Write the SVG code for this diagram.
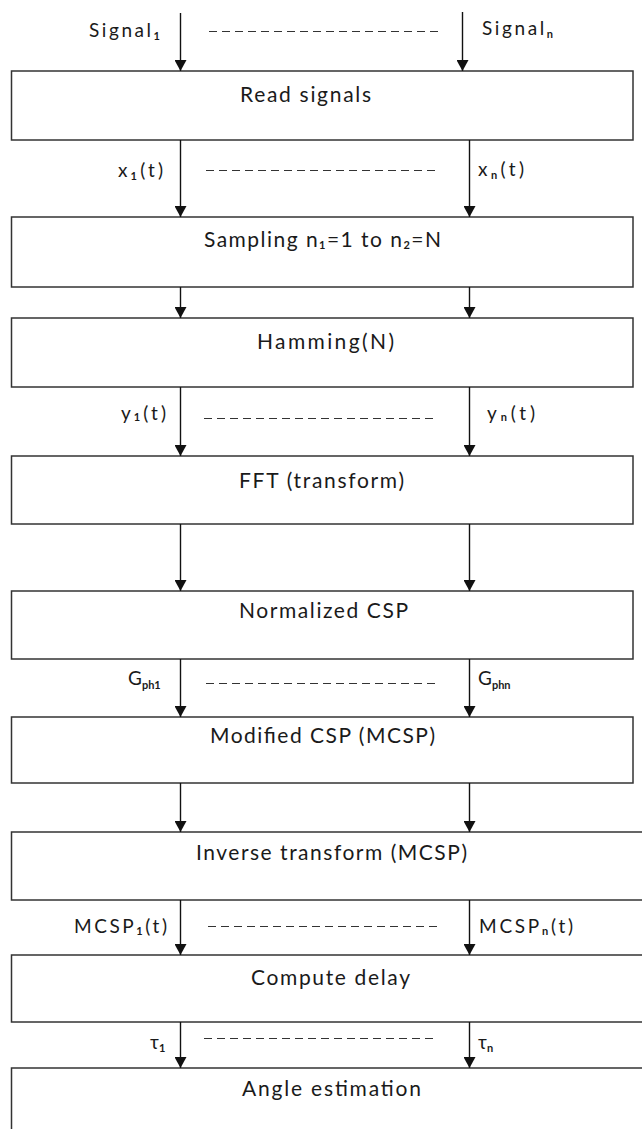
<svg xmlns="http://www.w3.org/2000/svg" width="642" height="1129" viewBox="0 0 642 1129">
<style>
.box{fill:#fff;stroke:#333;stroke-width:1.5}
.t{font-family:Lato,"Liberation Sans",sans-serif;font-size:21px;fill:#1a1a1a}
.l{font-family:Lato,"Liberation Sans",sans-serif;font-size:19px;fill:#1a1a1a}
.sub{font-size:11px;font-weight:bold}
.ar{stroke:#111;stroke-width:1.4;fill:none}
.dash{stroke:#333;stroke-width:1.1;stroke-dasharray:8 5;fill:none}
</style>
<defs>
<marker id="ah" viewBox="0 0 11 12" refX="11" refY="6" markerWidth="11" markerHeight="12" markerUnits="userSpaceOnUse" orient="auto">
<path d="M0,0 L11,6 L0,12 Z" fill="#111"/>
</marker>
</defs>
<g id="n1"><rect class="box" x="11.5" y="71" width="621.5" height="69"/><text class="t" x="240" y="102" textLength="131" lengthAdjust="spacing">Read signals</text></g>
<g id="n2"><rect class="box" x="11.5" y="217" width="621.5" height="70"/><text class="t" x="204" y="247" textLength="237" lengthAdjust="spacing">Sampling n<tspan class="sub" dy="2">1</tspan><tspan dy="-2">=1 to n</tspan><tspan class="sub" dy="2">2</tspan><tspan dy="-2">=N</tspan></text></g>
<g id="n3"><rect class="box" x="11.5" y="318" width="621.5" height="69"/><text class="t" x="257" y="349" textLength="137" lengthAdjust="spacing">Hamming(N)</text></g>
<g id="n4"><rect class="box" x="11.5" y="456" width="621.5" height="68"/><text class="t" x="239" y="488" textLength="165" lengthAdjust="spacing">FFT (transform)</text></g>
<g id="n5"><rect class="box" x="11.5" y="591" width="621.5" height="68"/><text class="t" x="239" y="618" textLength="169" lengthAdjust="spacing">Normalized CSP</text></g>
<g id="n6"><rect class="box" x="11.5" y="717" width="621.5" height="66"/><text class="t" x="210" y="743" textLength="225" lengthAdjust="spacing">Modified CSP (MCSP)</text></g>
<g id="n7"><rect class="box" x="11.5" y="832" width="640" height="68"/><text class="t" x="196" y="860" textLength="271" lengthAdjust="spacing">Inverse transform (MCSP)</text></g>
<g id="n8"><rect class="box" x="11.5" y="955" width="640" height="67"/><text class="t" x="251" y="985" textLength="159" lengthAdjust="spacing">Compute delay</text></g>
<g id="n9"><rect class="box" x="11.5" y="1068" width="640" height="80"/><text class="t" x="242" y="1096" textLength="179" lengthAdjust="spacing">Angle estimation</text></g>
<g id="connectors">
<line class="ar" x1="180.5" y1="13" x2="180.5" y2="71" marker-end="url(#ah)"/>
<line class="ar" x1="462.5" y1="12" x2="462.5" y2="71" marker-end="url(#ah)"/>
<line class="ar" x1="180.5" y1="140" x2="180.5" y2="217" marker-end="url(#ah)"/>
<line class="ar" x1="469.5" y1="140" x2="469.5" y2="217" marker-end="url(#ah)"/>
<line class="ar" x1="180.5" y1="287" x2="180.5" y2="318" marker-end="url(#ah)"/>
<line class="ar" x1="469.5" y1="287" x2="469.5" y2="318" marker-end="url(#ah)"/>
<line class="ar" x1="180.5" y1="387" x2="180.5" y2="456" marker-end="url(#ah)"/>
<line class="ar" x1="469.5" y1="387" x2="469.5" y2="456" marker-end="url(#ah)"/>
<line class="ar" x1="180.5" y1="524" x2="180.5" y2="591" marker-end="url(#ah)"/>
<line class="ar" x1="469.5" y1="524" x2="469.5" y2="591" marker-end="url(#ah)"/>
<line class="ar" x1="180.5" y1="659" x2="180.5" y2="717" marker-end="url(#ah)"/>
<line class="ar" x1="469.5" y1="659" x2="469.5" y2="717" marker-end="url(#ah)"/>
<line class="ar" x1="180.5" y1="783" x2="180.5" y2="832" marker-end="url(#ah)"/>
<line class="ar" x1="469.5" y1="783" x2="469.5" y2="832" marker-end="url(#ah)"/>
<line class="ar" x1="180.5" y1="900" x2="180.5" y2="955" marker-end="url(#ah)"/>
<line class="ar" x1="469.5" y1="900" x2="469.5" y2="955" marker-end="url(#ah)"/>
<line class="ar" x1="180.5" y1="1022" x2="180.5" y2="1068" marker-end="url(#ah)"/>
<line class="ar" x1="469.5" y1="1022" x2="469.5" y2="1068" marker-end="url(#ah)"/>
<line class="dash" x1="209" y1="31.5" x2="442" y2="31.5"/>
<line class="dash" x1="206" y1="170.5" x2="439" y2="170.5"/>
<line class="dash" x1="204" y1="418.5" x2="436" y2="418.5"/>
<line class="dash" x1="206" y1="683.5" x2="438" y2="683.5"/>
<line class="dash" x1="208" y1="926.5" x2="439" y2="926.5"/>
<line class="dash" x1="204" y1="1038.5" x2="436" y2="1038.5"/>
<text class="l" x="89" y="37" textLength="71" lengthAdjust="spacing">Signal<tspan class="sub" dy="3">1</tspan></text>
<text class="l" x="482" y="35" textLength="71" lengthAdjust="spacing">Signal<tspan class="sub" dy="3">n</tspan></text>
<text class="l" x="118" y="177" textLength="45" lengthAdjust="spacing">x<tspan class="sub" dy="3">1</tspan><tspan dy="-3">(t)</tspan></text>
<text class="l" x="478" y="176" textLength="46" lengthAdjust="spacing">x<tspan class="sub" dy="3">n</tspan><tspan dy="-3">(t)</tspan></text>
<text class="l" x="121" y="420" textLength="45" lengthAdjust="spacing">y<tspan class="sub" dy="1">1</tspan><tspan dy="-1">(t)</tspan></text>
<text class="l" x="487" y="420" textLength="48" lengthAdjust="spacing">y<tspan class="sub" dy="1">n</tspan><tspan dy="-1">(t)</tspan></text>
<text class="l" x="128" y="685">G<tspan class="sub" dy="4">ph1</tspan></text>
<text class="l" x="478" y="685">G<tspan class="sub" dy="4">phn</tspan></text>
<text class="l" x="74" y="933" textLength="93" lengthAdjust="spacing">MCSP<tspan class="sub" dy="2">1</tspan><tspan dy="-2">(t)</tspan></text>
<text class="l" x="479" y="933" textLength="94" lengthAdjust="spacing">MCSP<tspan class="sub" dy="2">n</tspan><tspan dy="-2">(t)</tspan></text>
<text class="l" x="150" y="1049">τ<tspan class="sub" dy="3">1</tspan></text>
<text class="l" x="478" y="1049">τ<tspan class="sub" dy="3">n</tspan></text>
</g>
</svg>
